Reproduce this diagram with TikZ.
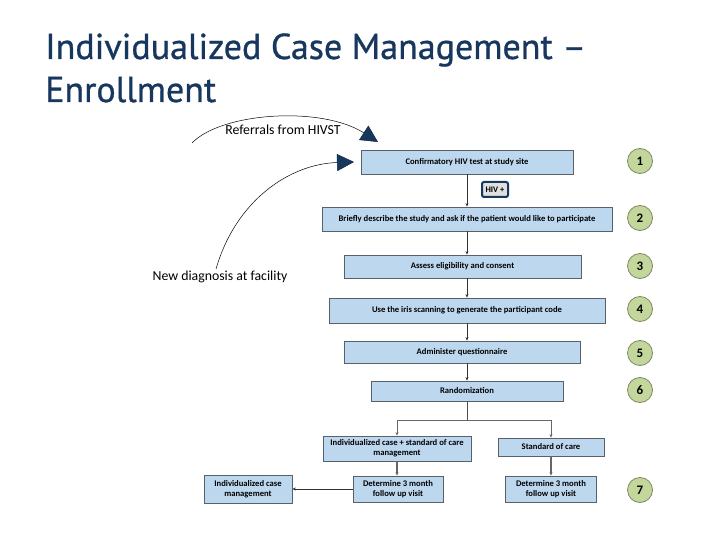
\documentclass[tikz,border=0pt]{standalone}
\usepackage{fontspec}
\setmainfont{Carlito}
\newfontfamily\titlefont[FakeBold=0.8]{PT Sans}
\usetikzlibrary{arrows.meta}

\definecolor{navy}{HTML}{17375E}
\definecolor{boxblue}{HTML}{BDD7EE}
\definecolor{boxline}{HTML}{56616C}
\definecolor{stepgreen}{HTML}{C3D69B}
\definecolor{stepline}{HTML}{7A8A5A}

\tikzset{
  stepbox/.style={draw=boxline,fill=boxblue,line width=0.8pt,inner sep=1pt,
    align=center,font=\fontsize{8.6}{10}\selectfont\bfseries},
  num/.style={circle,draw=stepline,fill=stepgreen,line width=0.8pt,
    minimum size=25pt,inner sep=0pt,font=\fontsize{13}{13}\selectfont\bfseries},
  flow/.style={-{Stealth[length=3.5pt,width=3pt]},draw=black!80,line width=0.5pt},
  bigtip/.style={-{Triangle[length=17pt,width=17pt,fill=navy,color=navy!70!black]},
    line width=0.5pt},
  lbl/.style={font=\fontsize{13.8}{14}\selectfont}
}

\begin{document}
\begin{tikzpicture}

\begin{scope}[x=1pt,y=-1pt]
    \useasboundingbox (0,0) rectangle (720,540);

    % title
    \node[anchor=base west,text=navy,inner sep=0pt,font=\titlefont\fontsize{36}{36}\selectfont] (title1) at (45,59) {Individualized Case Management –};
    \node[anchor=base west,text=navy,inner sep=0pt,font=\titlefont\fontsize{36}{36}\selectfont] (title2) at (45,102) {Enrollment};

    % entry points
    \node[lbl] (hivst) at (283,130) {Referrals from HIVST};
    \node[lbl] (newdiag) at (220,277) {New diagnosis at facility};
    \coordinate (hivststart) at (192,143);
    \coordinate (hivsttip) at (378,142);
    \coordinate (diagstart) at (216,269);
    \coordinate (diagtip) at (354,162);
    \draw[bigtip] (hivststart) .. controls (222,112) and (322,106) .. (hivsttip);
    \draw[bigtip] (diagstart) .. controls (236,200) and (290,164) .. (diagtip);

    % steps
    \node[stepbox,minimum width=212pt,minimum height=24pt] (confirm) at (467,162) {Confirmatory HIV test at study site};
    \node[draw=navy,line width=2pt,fill=black!12,rounded corners=2pt,minimum width=26pt,minimum height=15pt,inner sep=0pt,font=\fontsize{8.5}{8.5}\selectfont\bfseries] (hivpos) at (495,189.5) {HIV +};
    \node[stepbox,minimum width=290pt,minimum height=24pt] (describe) at (467,219) {Briefly describe the study and ask if the patient would like to participate};
    \node[stepbox,minimum width=237pt,minimum height=23pt] (assess) at (462.5,266.5) {Assess eligibility and consent};
    \node[stepbox,minimum width=276pt,minimum height=25pt] (iris) at (467,310.5) {Use the iris scanning to generate the participant code};
    \node[stepbox,minimum width=236pt,minimum height=22pt] (quest) at (462,352) {Administer questionnaire};
    \node[stepbox,minimum width=192pt,minimum height=20pt] (random) at (467,391) {Randomization};
    \node[stepbox,minimum width=148pt,minimum height=25pt] (icm) at (397,448.5) {Individualized case + standard of care\\management};
    \node[stepbox,minimum width=106pt,minimum height=18pt] (soc) at (551,447) {Standard of care};
    \node[stepbox,minimum width=90pt,minimum height=26pt] (followa) at (398,489) {Determine 3 month\\follow up visit};
    \node[stepbox,minimum width=91pt,minimum height=26pt] (followb) at (551,489) {Determine 3 month\\follow up visit};
    \node[stepbox,minimum width=88pt,minimum height=28pt] (icmonly) at (248,489) {Individualized case\\management};

    \draw[flow] (confirm.south) -- (describe.north);
    \draw[flow] (describe.south) -- (describe.south |- assess.north);
    \draw[flow] (describe.south |- assess.south) -- (describe.south |- iris.north);
    \draw[flow] (iris.south) -- (iris.south |- quest.north);
    \draw[flow] (iris.south |- quest.south) -- (random.north);
    \coordinate (split) at (467,420);
    \draw[black!70] (random.south) -- (split);
    \draw[flow,draw=black!60] (split) -| (icm.north);
    \draw[flow,draw=black!60] (split) -| (soc.north);
    \draw[flow,draw=black!60,line width=1.2pt] (icm.south) -- (icm.south |- followa.north);
    \draw[flow,draw=black!60,line width=1.2pt] (soc.south) -- (followb.north);
    \draw[flow] (followa.west) -- (icmonly.east);

    % step numbers
    \node[num] (n1) at (640,161) {1};
    \node[num] (n2) at (640,218) {2};
    \node[num] (n3) at (640,266) {3};
    \node[num] (n4) at (640,309) {4};
    \node[num] (n5) at (640,353) {5};
    \node[num] (n6) at (640,390) {6};
    \node[num] (n7) at (640,490) {7};
\end{scope}

\end{tikzpicture}
\end{document}
